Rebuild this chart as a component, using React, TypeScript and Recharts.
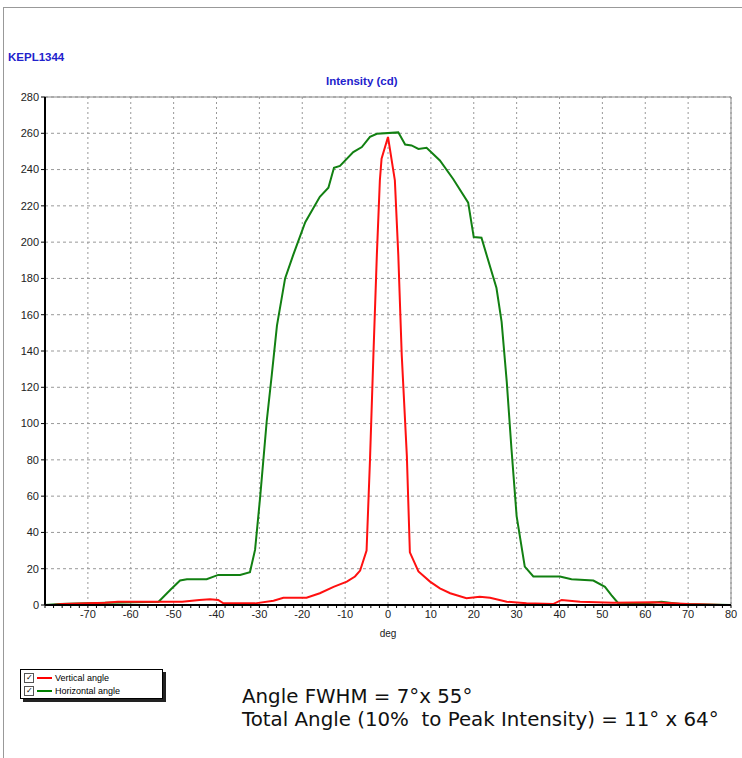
import { CartesianGrid, Line, LineChart, ReferenceLine, XAxis, YAxis } from 'recharts'

// Vertical angle (red) – degrees and intensity in cd
const verticalDeg = [-78, -76, -66, -63, -54, -48, -44, -41.5, -39.6, -38.4, -31, -26.7, -24.4, -19, -15.9, -12.7, -9.6, -7.7, -6.5, -5, -4.2, -3.4, -2.6, -1.9, -1.5, 0, 1.6, 2.4, 3.2, 4.4, 5.1, 7.1, 9.8, 12.1, 14.5, 18.3, 21.4, 23.8, 27.7, 32.3, 38.5, 40.5, 44.8, 52.5, 61.8, 70, 78]
const verticalCd = [0, 0.5, 1.3, 1.8, 1.8, 1.8, 2.8, 3.1, 2.8, 0.9, 0.9, 2.4, 4, 4, 6.5, 10, 12.9, 15.7, 19, 30, 80, 138, 193, 234, 246, 258, 234, 193, 138, 82, 29, 18.5, 12.9, 9.2, 6.5, 3.7, 4.5, 4, 1.8, 1, 0.5, 2.8, 1.8, 1.3, 1.5, 0.5, 0]

// Horizontal angle (green)
const horizontalDeg = [-80, -76.5, -65.6, -53.5, -50.8, -48.5, -46.9, -42.3, -39.6, -34.5, -32.2, -31, -29.8, -28.3, -27.1, -25.9, -24, -22.1, -19.3, -15.9, -13.9, -12.6, -11.2, -8.1, -6.1, -4.2, -2.6, 2.4, 4, 5.5, 7.1, 9, 12.1, 15.2, 18.7, 20, 21.8, 25.3, 26.5, 27.7, 28.8, 30, 31.9, 33.9, 40.1, 42.8, 47.9, 50.6, 52.1, 53.6, 60.3, 63.8, 68.1, 80]
const horizontalCd = [0, 0.5, 1.3, 1.8, 8.3, 13.5, 14.2, 14.2, 16.6, 16.6, 18.1, 30.5, 60, 101, 127, 154, 180, 193, 211, 225, 230, 241, 242, 249.6, 252.4, 258, 259.7, 260.5, 253.8, 253.3, 251.4, 252, 245, 234.8, 221.8, 202.8, 202.4, 174.7, 156, 123, 86, 49, 21.2, 15.7, 15.7, 14.2, 13.5, 10, 5.5, 1.3, 0.9, 1.8, 0.5, 0]

const yTicks = [0, 20, 40, 60, 80, 100, 120, 140, 160, 180, 200, 220, 240, 260, 280]
const xMajorTicks = [-70, -60, -50, -40, -30, -20, -10, 0, 10, 20, 30, 40, 50, 60, 70, 80]
const xMinorTicks = Array.from({ length: 81 }, (_, i) => -80 + 2 * i)

const verticalData = verticalDeg.map((deg, i) => ({ deg, cd: verticalCd[i] }))
const horizontalData = horizontalDeg.map((deg, i) => ({ deg, cd: horizontalCd[i] }))

const axisFont = { fontSize: 11, fill: '#222', fontFamily: 'Liberation Sans, Arial, sans-serif' }
const titleStyle = { position: 'absolute' as const, fontFamily: 'Liberation Sans, Arial, sans-serif', fontWeight: 700, fontSize: 11.5, color: '#2222cc' }

function LegendBox() {
  const row = (color: string, text: string) => <div style={{ display: 'flex', alignItems: 'center', height: 13 }}>
    <span style={{ width: 8, height: 8, border: '1px solid #555', fontSize: 8, lineHeight: '8px', textAlign: 'center', marginRight: 3, background: '#fff' }}>✓</span>
    <span style={{ width: 15, height: 2, background: color, marginRight: 3 }} />
    <span>{text}</span>
  </div>
  return <div style={{ position: 'absolute', left: 20, top: 669, width: 143, height: 30, border: '1px solid #000', boxShadow: '3px 3px 0 #222', background: '#fff', padding: '1px 3px', boxSizing: 'border-box', fontFamily: 'Liberation Sans, Arial, sans-serif', fontSize: 9, color: '#000' }}>
    {row('#ff0000', 'Vertical angle')}
    {row('#008000', 'Horizontal angle')}
  </div>
}

export default function App() {
  return <div style={{ position: 'absolute', left: 0, top: 0, width: 742, height: 758, background: '#fff', overflow: 'hidden' }}>
    <div style={{ position: 'absolute', left: 3, top: 7, width: 739, height: 751, borderLeft: '1px solid #999', borderTop: '1px solid #999' }} />
    <div style={{ ...titleStyle, left: 8, top: 51 }}>KEPL1344</div>
    <div style={{ ...titleStyle, left: 326, top: 75 }}>Intensity (cd)</div>
    <LineChart width={742} height={758} data={horizontalData} margin={{ top: 97, right: 11, bottom: 123, left: 5 }} style={{ position: 'absolute', left: 0, top: 0 }}>
      <CartesianGrid horizontal={true} vertical={false} stroke="#999" strokeDasharray="3 3" horizontalValues={yTicks} />
      <CartesianGrid horizontal={false} vertical={true} stroke="#999" strokeDasharray="2 3" verticalValues={xMajorTicks} />
      <ReferenceLine y={280} stroke="#888" strokeWidth={1} />
      <ReferenceLine x={80} stroke="#888" strokeWidth={1} />
      <XAxis dataKey="deg" type="number" domain={[-80, 80]} ticks={xMinorTicks} interval={0} height={30}
        tick={axisFont} tickSize={3} tickLine={{ stroke: '#000' }} axisLine={{ stroke: '#000', strokeWidth: 2 }}
        tickFormatter={(v: number) => (v % 10 === 0 && v !== -80 ? String(v) : '')}
        label={{ value: 'deg', position: 'insideBottom', offset: -2, style: { fontSize: 10, fill: '#222', fontFamily: 'Liberation Sans, Arial, sans-serif' } }} />
      <YAxis type="number" domain={[0, 280]} ticks={yTicks} interval={0} width={40}
        tick={axisFont} tickSize={4} tickLine={{ stroke: '#000' }} axisLine={{ stroke: '#000', strokeWidth: 2 }} />
      <Line data={horizontalData} dataKey="cd" type="linear" stroke="#128012" strokeWidth={2} dot={false} isAnimationActive={false} />
      <Line data={verticalData} dataKey="cd" type="linear" stroke="#ff1010" strokeWidth={2} dot={false} isAnimationActive={false} />
    </LineChart>
    <LegendBox />
    <div style={{ position: 'absolute', left: 242, top: 685, fontFamily: 'DejaVu Sans, Verdana, sans-serif', fontSize: 20, lineHeight: '23px', color: '#111', whiteSpace: 'pre', transform: 'scaleX(0.99)', transformOrigin: 'left top' }}>
      <div>Angle FWHM = 7°x 55°</div>
      <div>Total Angle (10%  to Peak Intensity) = 11° x 64°</div>
    </div>
  </div>
}
